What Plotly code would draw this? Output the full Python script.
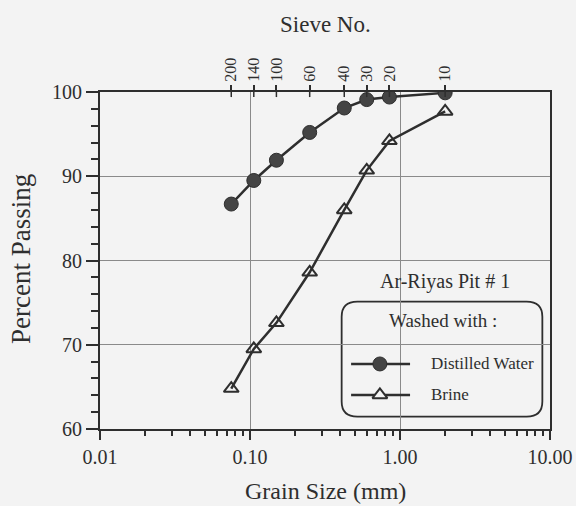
import plotly.graph_objects as go

# Sieve data
sieve_labels = ["200", "140", "100", "60", "40", "30", "20", "10"]
sieve_mm = [0.075, 0.106, 0.15, 0.25, 0.425, 0.6, 0.85, 2.0]

distilled = [86.7, 89.5, 91.9, 95.2, 98.1, 99.1, 99.4, 99.9]
brine = [64.8, 69.5, 72.6, 78.6, 86.0, 90.7, 94.2, 97.7]

x_tick_vals = [0.01, 0.1, 1, 10]
x_tick_text = ["0.01", "0.10", "1.00", "10.00"]
x_minor_vals = [m * d for d in [0.01, 0.1, 1] for m in range(2, 10)]

FONT = "Liberation Serif"
INK = "#2e2e2e"
BG = "#f3f3f3"

fig = go.Figure()

fig.add_trace(go.Scatter(
    x=sieve_mm, y=distilled, mode="lines+markers", name="Distilled Water",
    line=dict(color=INK, width=2.5),
    marker=dict(symbol="circle", size=14, color="#444444", line=dict(color=INK, width=1)),
    showlegend=False))
fig.add_trace(go.Scatter(
    x=sieve_mm, y=brine, mode="lines+markers", name="Brine",
    line=dict(color=INK, width=2.5),
    marker=dict(symbol="triangle-up-open", size=13, color=INK, line=dict(color=INK, width=2)),
    showlegend=False))

# top axis anchor trace (invisible)
fig.add_trace(go.Scatter(x=sieve_mm, y=distilled, xaxis="x2", mode="markers",
                         marker=dict(opacity=0), showlegend=False, hoverinfo="skip"))

# legend glyphs on auxiliary axis
fig.add_trace(go.Scatter(x=[0.558, 0.689], y=[0.193, 0.193], xaxis="x3", yaxis="y3",
                         mode="lines", line=dict(color=INK, width=2.5), showlegend=False))
fig.add_trace(go.Scatter(x=[0.622], y=[0.193], xaxis="x3", yaxis="y3", mode="markers",
                         marker=dict(symbol="circle", size=14, color="#444444",
                                     line=dict(color=INK, width=1)), showlegend=False))
fig.add_trace(go.Scatter(x=[0.558, 0.689], y=[0.101, 0.101], xaxis="x3", yaxis="y3",
                         mode="lines", line=dict(color=INK, width=2.5), showlegend=False))
fig.add_trace(go.Scatter(x=[0.622], y=[0.101], xaxis="x3", yaxis="y3", mode="markers",
                         marker=dict(symbol="triangle-up", size=13, color=BG,
                                     line=dict(color=INK, width=2)), showlegend=False))

shapes = []
# inside part of top ticks
for s in sieve_mm:
    shapes.append(dict(type="line", xref="x", yref="paper", x0=s, x1=s, y0=1, y1=0.985,
                       line=dict(color=INK, width=1.5)))
# rounded legend box
x0, x1, y0, y1 = 0.537, 0.983, 0.0365, 0.378
rx, ry = 0.035, 0.045
path = (f"M {x0+rx},{y0} L {x1-rx},{y0} Q {x1},{y0} {x1},{y0+ry} "
        f"L {x1},{y1-ry} Q {x1},{y1} {x1-rx},{y1} L {x0+rx},{y1} Q {x0},{y1} {x0},{y1-ry} "
        f"L {x0},{y0+ry} Q {x0},{y0} {x0+rx},{y0} Z")
shapes.append(dict(type="path", xref="paper", yref="paper", path=path,
                   line=dict(color=INK, width=1.8), fillcolor=BG, layer="below"))

def ann(text, x, y, size, **kw):
    d = dict(text=text, xref="paper", yref="paper", x=x, y=y, showarrow=False,
             xanchor="center", yanchor="middle", font=dict(family=FONT, size=size, color=INK))
    d.update(kw)
    return d

annotations = [
    ann("Sieve No.", 0.502, 1.200, 23),
    ann("Grain Size (mm)", 0.502, -0.184, 24),
    ann("Percent Passing", -0.176, 0.504, 27, textangle=-90),
    ann("Ar-Riyas Pit # 1", 0.767, 0.437, 20),
    ann("Washed with :", 0.763, 0.323, 19),
    ann("Distilled Water", 0.730, 0.193, 17, xanchor="left"),
    ann("Brine", 0.730, 0.101, 17, xanchor="left"),
]

fig.update_layout(
    width=576, height=506,
    margin=dict(l=100, r=26, t=92, b=77, autoexpand=False),
    paper_bgcolor=BG, plot_bgcolor=BG,
    font=dict(family=FONT, color=INK),
    showlegend=False,
    shapes=shapes,
    annotations=annotations,
    xaxis=dict(type="log", range=[-2, 1], tickmode="array", tickvals=x_tick_vals,
               ticktext=x_tick_text, ticks="outside", ticklen=9, tickwidth=1.5, tickcolor=INK,
               showline=True, linecolor=INK, linewidth=2, mirror=True, automargin=False,
               showgrid=True, gridcolor="#8a8a8a", gridwidth=1,
               minor=dict(tickvals=x_minor_vals, ticks="outside", ticklen=5, tickwidth=1.5,
                          tickcolor=INK, showgrid=False),
               tickfont=dict(family=FONT, size=20, color=INK), zeroline=False),
    xaxis2=dict(type="log", range=[-2, 1], overlaying="x", side="top", anchor="y",
                tickmode="array", tickvals=sieve_mm, ticktext=sieve_labels, tickangle=-90,
                ticks="outside", ticklen=5, tickwidth=1.5, tickcolor=INK, automargin=False,
                showline=True, linecolor=INK, linewidth=2, showgrid=False,
                tickfont=dict(family=FONT, size=16, color=INK)),
    yaxis=dict(range=[60, 100], tickmode="linear", tick0=60, dtick=10,
               ticks="outside", ticklen=12, tickwidth=1.5, tickcolor=INK,
               showline=True, linecolor=INK, linewidth=2, mirror=True, automargin=False,
               showgrid=True, gridcolor="#8a8a8a", gridwidth=1,
               minor=dict(dtick=2, ticks="outside", ticklen=7, tickwidth=1.5, tickcolor=INK,
                          showgrid=False),
               tickfont=dict(family=FONT, size=20, color=INK), zeroline=False),
    xaxis3=dict(domain=[0, 1], range=[0, 1], anchor="y3", visible=False, overlaying="x"),
    yaxis3=dict(domain=[0, 1], range=[0, 1], anchor="x3", visible=False, overlaying="y"),
)

fig.write_html("out.html")
